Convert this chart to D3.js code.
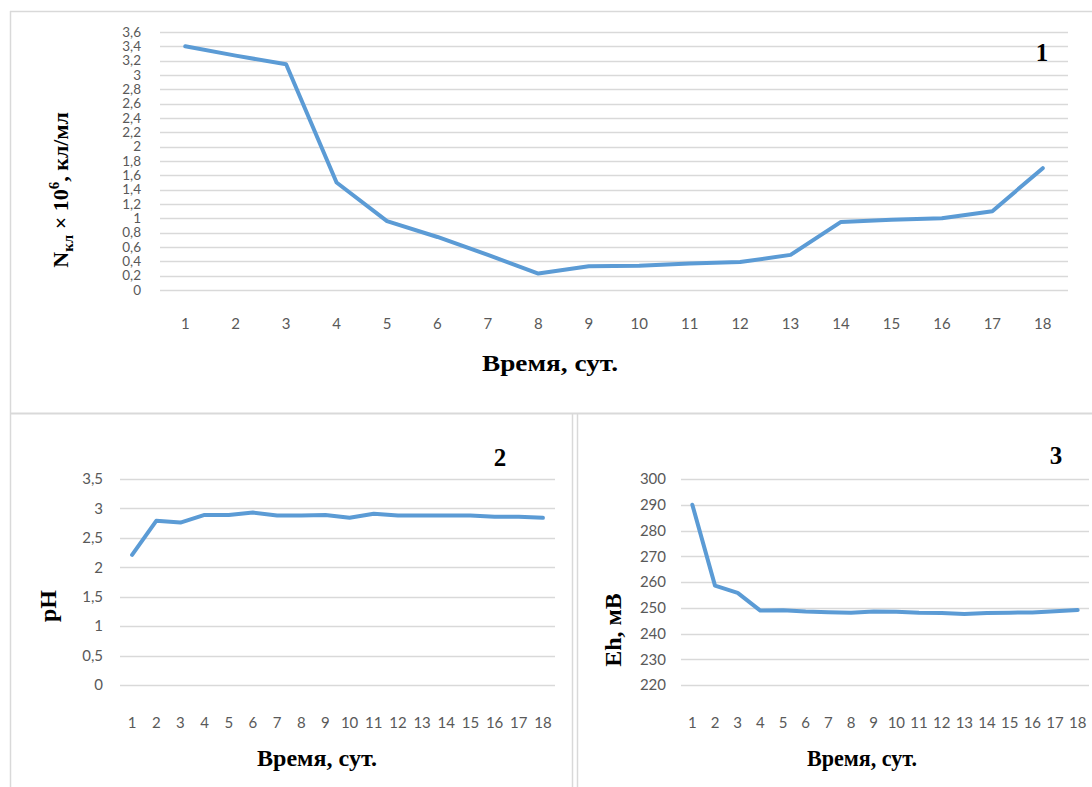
<!DOCTYPE html>
<html><head><meta charset="utf-8">
<script src="https://cdn.jsdelivr.net/npm/d3@7"></script>
<style>
body{margin:0;background:#fff;}
svg{display:block;}
.tick text{font-family:Lato,"Open Sans",sans-serif;fill:#595959;}
</style></head>
<body>
<svg id="c" width="1092" height="787"></svg>
<script>
const days = d3.range(1, 19);
const nCells = [3.4, 3.27, 3.15, 1.5, 0.96, 0.74, 0.49, 0.23, 0.33, 0.34, 0.37, 0.39, 0.49, 0.95, 0.98, 1.0, 1.1, 1.7];
const pH = [2.21, 2.79, 2.76, 2.89, 2.89, 2.93, 2.88, 2.88, 2.89, 2.84, 2.91, 2.88, 2.88, 2.88, 2.88, 2.86, 2.86, 2.84];
const eh = [290, 258.6, 255.8, 248.9, 249, 248.5, 248.3, 248.1, 248.5, 248.4, 248.1, 248, 247.6, 248, 248.1, 248.2, 248.6, 249.1];
const ticksN = d3.range(0, 19).map(i => +(i * 0.2).toFixed(1));
const ticksPH = [0, 0.5, 1, 1.5, 2, 2.5, 3, 3.5];
const ticksEh = [220, 230, 240, 250, 260, 270, 280, 290, 300];

const svg = d3.select("#c");
const fmt = v => String(v).replace(".", ",");
const serif = "'Liberation Serif','Times New Roman',serif";

// panel borders
const border = "#d9d9d9";
svg.append("line").attr("x1", 10.5).attr("x2", 10.5).attr("y1", 11).attr("y2", 787).attr("stroke", border).attr("stroke-width", 1.5);
svg.append("line").attr("x1", 10).attr("x2", 1092).attr("y1", 11.5).attr("y2", 11.5).attr("stroke", border).attr("stroke-width", 1.5);
svg.append("line").attr("x1", 10).attr("x2", 1092).attr("y1", 413.5).attr("y2", 413.5).attr("stroke", border).attr("stroke-width", 2);
svg.append("line").attr("x1", 572.5).attr("x2", 572.5).attr("y1", 413).attr("y2", 787).attr("stroke", border).attr("stroke-width", 1.5);
svg.append("line").attr("x1", 577.5).attr("x2", 577.5).attr("y1", 413).attr("y2", 787).attr("stroke", border).attr("stroke-width", 1.5);

function chart(o) {
  const x = d3.scaleBand().domain(days).range([o.x0, o.x1]);
  const y = d3.scaleLinear().domain(o.dom).range([o.y0, o.y1]);
  const g = svg.append("g");
  // grid
  g.append("g").selectAll("line").data(o.ticks).join("line")
    .attr("x1", o.x0).attr("x2", o.x1)
    .attr("y1", d => Math.round(y(d)) + 0.5).attr("y2", d => Math.round(y(d)) + 0.5)
    .attr("stroke", "#d9d9d9").attr("stroke-width", 1.3);
  // y axis
  const ya = g.append("g").attr("transform", `translate(${o.x0 - o.ypad},0)`)
    .call(d3.axisLeft(y).tickValues(o.ticks).tickFormat(fmt).tickSize(0).tickPadding(0));
  ya.select(".domain").remove();
  ya.selectAll("text").attr("font-size", o.yfs);
  // x axis
  const xa = g.append("g").attr("transform", `translate(0,${o.y0 + o.xpad})`)
    .call(d3.axisBottom(x).tickSize(0).tickPadding(0));
  xa.select(".domain").remove();
  xa.selectAll("text").attr("font-size", o.xfs);
  // line
  g.append("path").datum(o.data)
    .attr("fill", "none").attr("stroke", "#5b9bd5").attr("stroke-width", 4)
    .attr("stroke-linejoin", "round").attr("stroke-linecap", "round")
    .attr("d", d3.line().x((d, i) => x(days[i]) + x.bandwidth() / 2).y(d => y(d)));
  // number label
  g.append("text").attr("x", o.num[0]).attr("y", o.num[1]).attr("text-anchor", "middle")
    .attr("font-family", serif).attr("font-weight", "bold")
    .attr("font-size", 25).attr("fill", "#000").text(o.numText);
  // x title
  g.append("text").attr("x", o.xt[0]).attr("y", o.xt[1]).attr("text-anchor", "middle")
    .attr("font-family", serif).attr("font-weight", "bold")
    .attr("font-size", 23).attr("fill", "#000")
    .attr("textLength", o.xt[2]).attr("lengthAdjust", "spacingAndGlyphs")
    .text("Время, сут.");
  return g;
}

chart({x0: 160, x1: 1068, y0: 290, y1: 32, dom: [0, 3.6], ticks: ticksN, data: nCells,
  ypad: 19, xpad: 28, yfs: 13.5, xfs: 15, num: [1042, 61], numText: "1", xt: [550, 371, 136]});
chart({x0: 120, x1: 555, y0: 685, y1: 479, dom: [0, 3.5], ticks: ticksPH, data: pH,
  ypad: 17, xpad: 32, yfs: 15, xfs: 15, num: [500, 466], numText: "2", xt: [317, 766, 120]});
chart({x0: 681, x1: 1089, y0: 685, y1: 479, dom: [220, 300], ticks: ticksEh, data: eh,
  ypad: 15, xpad: 32, yfs: 15, xfs: 15, num: [1056, 464], numText: "3", xt: [862, 766, 110]});

// y titles
const t1 = svg.append("text").attr("transform", "translate(68,190) rotate(-90)")
  .attr("text-anchor", "middle").attr("font-family", serif).attr("font-weight", "bold")
  .attr("font-size", 22).attr("fill", "#000");
t1.append("tspan").text("N");
t1.append("tspan").attr("font-size", 15).attr("dy", 5).text("кл");
t1.append("tspan").attr("dy", -5).text(" × 10");
t1.append("tspan").attr("font-size", 15).attr("dy", -9).text("6");
t1.append("tspan").attr("dy", 9).text(", кл/мл");

svg.append("text").attr("transform", "translate(56,606) rotate(-90)")
  .attr("text-anchor", "middle").attr("font-family", serif).attr("font-weight", "bold")
  .attr("font-size", 24).attr("fill", "#000").text("pH");
svg.append("text").attr("transform", "translate(621,630) rotate(-90)")
  .attr("text-anchor", "middle").attr("font-family", serif).attr("font-weight", "bold")
  .attr("font-size", 24).attr("fill", "#000").text("Eh, мВ");
</script>
</body></html>
